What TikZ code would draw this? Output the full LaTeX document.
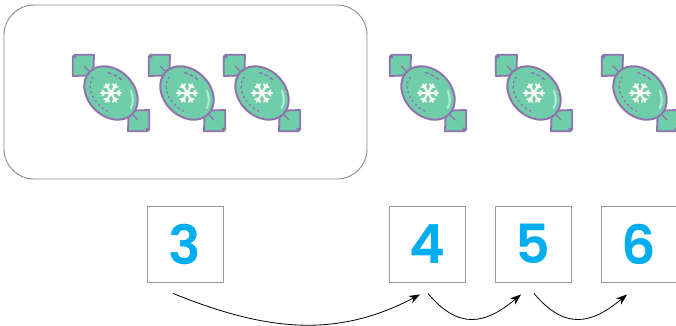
\documentclass[tikz,border=0pt]{standalone}
\usepackage{fontspec}
\newfontfamily\numfont{Poppins SemiBold}
\usetikzlibrary{arrows.meta,calc}
\definecolor{candyfill}{HTML}{6FCDAA}
\definecolor{candyline}{HTML}{9172AE}
\definecolor{candyhl}{HTML}{B4EBD6}
\definecolor{flake}{HTML}{F6F8F0}
\definecolor{digit}{HTML}{00AEEF}
\definecolor{boxline}{HTML}{9A9A9A}
\definecolor{frameline}{HTML}{8C8C8C}
\tikzset{
  wrap/.style={fill=candyfill,draw=candyline,line width=1.8pt,line join=round},
  body/.style={fill=candyfill,draw=candyline,line width=2pt},
  numbox/.style={draw=boxline,line width=0.9pt,minimum size=76pt,inner sep=0pt,
    font=\numfont\fontsize{54}{54}\selectfont,text=digit},
  jump/.style={line width=0.8pt,-{Stealth[length=11pt,width=8pt]}},
  candy/.pic={
    \begin{scope}[rotate=-45]
      \foreach \s in {1,-1}{
        \draw[wrap] (\s*53,1) -- (\s*39,15) -- (\s*25,0) -- (\s*39,-15) -- (\s*53,-1) -- (\s*50,0) -- cycle;
        \draw[candyline,line width=1.2pt,line cap=round] (\s*28,0) -- (\s*38,0);
      }
      \draw[body] (0,0) ellipse [x radius=30, y radius=23];
      \draw[candyhl,line width=2pt,line cap=round] (10:25 and 18) arc[start angle=10,end angle=60,x radius=25,y radius=18];
      \draw[candyline,line width=1.4pt,line cap=round,dash pattern=on 3pt off 3pt] (95:24 and 17) arc[start angle=95,end angle=140,x radius=24,y radius=17];
      \draw[candyline,line width=1.4pt,line cap=round,dash pattern=on 1.5pt off 3.5pt] (185:24 and 17) arc[start angle=185,end angle=300,x radius=24,y radius=17];
    \end{scope}
    \foreach \a in {0,60,...,300}{
      \draw[flake,line width=2.2pt,line cap=round] (0,0) -- (\a:10);
      \draw[flake,line width=1.6pt,line cap=round] (\a:6) -- ++(\a+45:4) (\a:6) -- ++(\a-45:4);
    }
    \fill[flake] (0,0) circle (3);
  }
}
\begin{document}
\begin{tikzpicture}[x=1pt,y=1pt]
\useasboundingbox (0,0) rectangle (676,325);
\draw[frameline,line width=0.9pt,rounded corners=30pt] (4,146) rectangle (367,320);
\pic at (111,232) {candy};
\pic at (187,232) {candy};
\pic at (262,232) {candy};
\pic at (428,232) {candy};
\pic at (534,232) {candy};
\pic at (640,232) {candy};
\node[numbox] (b3) at (185,81) {3};
\node[numbox] (b4) at (427,81) {4};
\node[numbox] (b5) at (533,81) {5};
\node[numbox] (b6) at (639,81) {6};
\coordinate (s3) at ($(b3.south)+(-12,-11)$);
\coordinate (e4) at ($(b4.south)+(-7,-12)$);
\coordinate (s4) at ($(b4.south)+(1,-11)$);
\coordinate (e5) at ($(b5.south)+(-12,-12)$);
\coordinate (s5) at ($(b5.south)+(1,-11)$);
\coordinate (e6) at ($(b6.south)+(-12,-12)$);
\draw[jump] (s3) to[out=-22,in=-152] (e4);
\draw[jump] (s4) to[out=-50,in=-140,looseness=1.3] (e5);
\draw[jump] (s5) to[out=-50,in=-140,looseness=1.3] (e6);
\end{tikzpicture}
\end{document}
